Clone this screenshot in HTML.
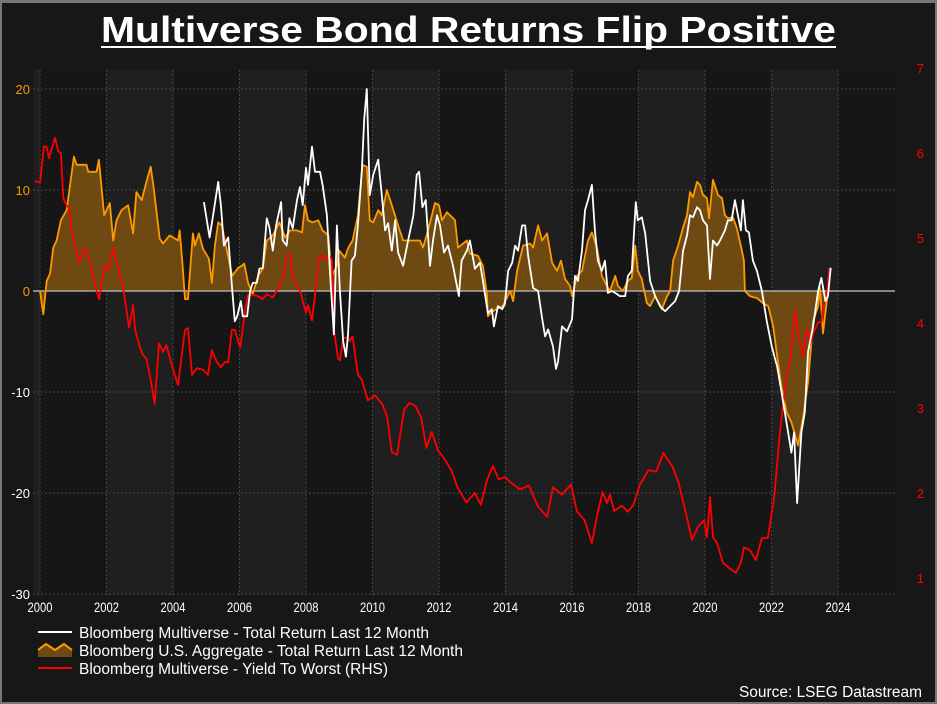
<!DOCTYPE html>
<html><head><meta charset="utf-8">
<style>
html,body{margin:0;padding:0;background:#161616;}
svg{display:block;font-family:"Liberation Sans",Arial,sans-serif;}
</style></head>
<body>
<svg id="chart" width="937" height="704" viewBox="0 0 937 704" xmlns="http://www.w3.org/2000/svg">
<rect x="0" y="0" width="937" height="704" fill="#171717"/>
<rect x="0.5" y="1.5" width="936" height="702" fill="none" stroke="#777" stroke-width="3"/>
<text x="101" y="42" textLength="735" lengthAdjust="spacingAndGlyphs" font-size="36" font-weight="bold" fill="#fff">Multiverse Bond Returns Flip Positive</text>
<rect x="101" y="46" width="735" height="2" fill="#fff"/>
<g id="bands"></g>
<g id="grid"></g>
<g id="series"></g>
<g id="axes"></g>
<g id="legend">
  <line x1="38" y1="632" x2="72" y2="632" stroke="#fff" stroke-width="2"/>
  <text x="79" y="638" font-size="15.5" textLength="350" lengthAdjust="spacingAndGlyphs" fill="#fff">Bloomberg Multiverse - Total Return Last 12 Month</text>
  <path d="M38,650 L46,644 L55,650 L64,644 L72,650 L72,657 L38,657 Z" fill="#6e4a12"/>
  <path d="M38,650 L46,644 L55,650 L64,644 L72,650" fill="none" stroke="#ff9900" stroke-width="2"/>
  <text x="79" y="656" font-size="15.5" textLength="384" lengthAdjust="spacingAndGlyphs" fill="#fff">Bloomberg U.S. Aggregate - Total Return Last 12 Month</text>
  <line x1="38" y1="668" x2="72" y2="668" stroke="#ff0000" stroke-width="2"/>
  <text x="79" y="674" font-size="15.5" textLength="309" lengthAdjust="spacingAndGlyphs" fill="#fff">Bloomberg Multiverse - Yield To Worst (RHS)</text>
</g>
<text x="739" y="697" textLength="183" lengthAdjust="spacingAndGlyphs" font-size="15.5" fill="#fff">Source: LSEG Datastream</text>
</svg>
<script>
const xTicks = [2000,2002,2004,2006,2008,2010,2012,2014,2016,2018,2020,2022,2024];
const leftTicks = [20,10,0,-10,-20,-30];
const rightTicks = [7,6,5,4,3,2,1];

const aggT = [2000.0,2000.1,2000.2,2000.3,2000.4,2000.5,2000.63,2000.8,2001.02,2001.1,2001.4,2001.45,2001.7,2001.77,2001.93,2002.1,2002.2,2002.3,2002.45,2002.65,2002.8,2002.9,2003.06,2003.2,2003.33,2003.42,2003.6,2003.7,2003.9,2004.15,2004.2,2004.3,2004.36,2004.45,2004.6,2004.66,2004.78,2004.9,2005.08,2005.17,2005.26,2005.36,2005.47,2005.62,2005.78,2005.96,2006.07,2006.14,2006.26,2006.4,2006.56,2006.7,2006.82,2007.0,2007.2,2007.37,2007.52,2007.73,2007.88,2007.97,2008.06,2008.2,2008.37,2008.5,2008.67,2008.78,2008.93,2009.0,2009.17,2009.26,2009.4,2009.56,2009.7,2009.83,2009.92,2010.02,2010.17,2010.28,2010.43,2010.58,2010.77,2010.92,2011.13,2011.43,2011.52,2011.67,2011.88,2012.0,2012.09,2012.24,2012.48,2012.57,2012.84,2012.93,2013.17,2013.32,2013.44,2013.47,2013.62,2013.92,2014.14,2014.23,2014.35,2014.53,2014.74,2014.83,2014.98,2015.1,2015.25,2015.4,2015.55,2015.67,2015.79,2015.94,2016.0,2016.15,2016.3,2016.48,2016.6,2016.75,2016.9,2017.05,2017.14,2017.3,2017.38,2017.53,2017.68,2017.8,2017.9,2017.98,2018.1,2018.25,2018.35,2018.5,2018.7,2018.86,2018.95,2019.04,2019.19,2019.34,2019.46,2019.55,2019.64,2019.76,2019.85,2019.94,2020.06,2020.12,2020.24,2020.39,2020.51,2020.6,2020.69,2020.84,2020.96,2021.11,2021.17,2021.2,2021.35,2021.56,2021.74,2021.9,2022.05,2022.17,2022.3,2022.45,2022.6,2022.8,2022.95,2023.1,2023.25,2023.4,2023.46,2023.55,2023.7];
const aggV = [0,-2.3,1,1.7,4.3,5,7,8,13.3,12.5,12.5,11.8,11.8,13,7.5,8.7,5,7,8,8.5,5.7,9.8,9,10.8,12.3,10.2,5.2,4.7,5.5,5,6,2,-0.8,-0.8,5.7,4.5,5.7,4.2,3.2,0.8,4.5,6.8,6.5,4,1.5,2.3,2.5,2.7,0.8,-0.3,1.5,2.2,5,5.5,6.8,5.3,6,6,5.8,8.5,7,6.8,7,6,5.5,1.5,2.5,4,3.3,4.2,5,7.5,12.5,12.3,7,6.8,8,7.5,10,8.5,6.5,5,5,5,4.3,6,8.7,8.5,7,7.8,7,4.3,5,3.7,3.5,2.5,-0.3,-2.5,-2,-1.5,0,-1,2,4.5,4.7,4.3,6.5,5,5.7,2.8,2,3,1.2,0.5,-0.5,1.5,2,5,5.8,4.3,1.5,0.5,0,1.5,0.5,0,1,1.3,4.5,2,1.2,-1.2,-1.5,-0.5,-1.8,-0.5,0,3,4.5,6.3,7.5,9.8,9.3,10.8,10.5,9.5,9.2,7.2,11,9.5,9.2,7.5,7.2,7.3,6.2,4,3,0,-0.5,-0.7,-1.2,-1.5,-3.5,-6.5,-9.5,-12,-13,-15.3,-12.5,-9,-3,-1.5,0.3,-4.2,0];

const mvT = [2004.93,2005.1,2005.23,2005.36,2005.44,2005.53,2005.66,2005.77,2005.86,2005.93,2006.04,2006.1,2006.23,2006.32,2006.4,2006.52,2006.6,2006.7,2006.82,2006.9,2007.0,2007.1,2007.25,2007.3,2007.42,2007.5,2007.6,2007.73,2007.82,2007.9,2008.0,2008.06,2008.18,2008.27,2008.42,2008.5,2008.63,2008.72,2008.84,2008.93,2009.02,2009.12,2009.2,2009.26,2009.37,2009.47,2009.56,2009.68,2009.75,2009.83,2009.92,2010.02,2010.17,2010.28,2010.38,2010.47,2010.58,2010.68,2010.77,2010.92,2011.07,2011.23,2011.33,2011.4,2011.5,2011.6,2011.73,2011.82,2011.94,2012.03,2012.15,2012.27,2012.42,2012.6,2012.68,2012.84,2012.93,2013.08,2013.23,2013.32,2013.47,2013.59,2013.65,2013.77,2013.9,2013.98,2014.08,2014.2,2014.29,2014.38,2014.5,2014.59,2014.68,2014.83,2014.98,2015.1,2015.19,2015.28,2015.43,2015.52,2015.58,2015.7,2015.85,2016.0,2016.09,2016.18,2016.3,2016.39,2016.48,2016.6,2016.69,2016.78,2016.9,2016.99,2017.08,2017.2,2017.35,2017.44,2017.6,2017.68,2017.8,2017.92,2017.98,2018.1,2018.2,2018.35,2018.5,2018.65,2018.8,2018.95,2019.1,2019.22,2019.34,2019.46,2019.55,2019.64,2019.76,2019.85,2019.94,2020.06,2020.15,2020.24,2020.36,2020.45,2020.6,2020.69,2020.8,2020.9,2020.99,2021.08,2021.14,2021.23,2021.32,2021.44,2021.56,2021.71,2021.86,2022.01,2022.17,2022.3,2022.45,2022.6,2022.68,2022.77,2022.9,2023.0,2023.1,2023.25,2023.4,2023.5,2023.62,2023.7,2023.78];
const mvV = [8.8,5.3,8,10.8,8.5,4.5,5.3,0.5,-3,-2.5,-1,-2.5,-2.5,0,0.8,0.8,2.2,2.3,7.2,6.3,4,6.5,8.8,5,4.5,7.2,6.2,9,10.3,8.5,12.2,10.5,14.3,11.8,11.8,10.5,7.5,2,-4.3,6.5,0,-5,-6.5,-4.5,3,3.5,6.5,12,17,20,9.5,11.5,13,9.5,6,6.7,4,7,3.8,2.5,5,7.5,11.5,11.8,8.3,9,2.5,5,7.5,6.5,3.8,4.5,2.5,-0.5,3,4,5,2.2,2.8,1,-2.2,-1.8,-3.5,-1.5,-1.8,-1.3,2,2.8,4.5,4,6.5,6.5,3.5,0.3,0,-2.7,-4.5,-3.8,-5.5,-7.7,-7,-3.5,-4,-2.8,1.5,1,4,8,9,10.5,6,3,2,3,-0.2,0,-0.3,-0.5,-0.5,1.5,2,8.8,7,7.3,5.7,1,-0.5,-1.5,-2,-1.5,-1,0,4,5.5,7.5,7.3,8.3,8,7,6.5,1.2,5,4.5,5,6,7,7,9,7.5,6,9,6,5.8,3,2,0,-3,-5.5,-7.5,-10,-13,-16,-14,-21,-14,-12,-6,-3.5,0,1.3,-1,-0.5,2.3];

const ytwT = [1999.85,2000.0,2000.12,2000.2,2000.27,2000.45,2000.55,2000.63,2000.7,2000.8,2000.88,2000.96,2001.05,2001.18,2001.3,2001.38,2001.5,2001.65,2001.78,2001.95,2002.05,2002.2,2002.35,2002.5,2002.68,2002.8,2002.86,2003.0,2003.1,2003.2,2003.33,2003.45,2003.58,2003.7,2003.8,2003.97,2004.05,2004.15,2004.36,2004.45,2004.57,2004.72,2004.9,2005.05,2005.17,2005.32,2005.44,2005.56,2005.66,2005.77,2005.86,2006.02,2006.17,2006.26,2006.38,2006.53,2006.7,2006.82,2007.0,2007.12,2007.3,2007.42,2007.52,2007.6,2007.82,2007.9,2008.0,2008.06,2008.18,2008.27,2008.37,2008.47,2008.57,2008.72,2008.78,2008.84,2008.96,2009.02,2009.12,2009.23,2009.32,2009.4,2009.56,2009.68,2009.86,2010.08,2010.3,2010.44,2010.58,2010.74,2010.95,2011.11,2011.3,2011.47,2011.62,2011.78,2011.96,2012.18,2012.37,2012.55,2012.82,2013.08,2013.26,2013.44,2013.62,2013.8,2013.98,2014.17,2014.44,2014.7,2014.98,2015.25,2015.43,2015.7,2015.97,2016.15,2016.38,2016.6,2016.78,2016.92,2017.05,2017.14,2017.27,2017.5,2017.68,2017.85,2018.03,2018.3,2018.53,2018.75,2019.02,2019.2,2019.44,2019.61,2019.79,2019.97,2020.06,2020.15,2020.24,2020.36,2020.54,2020.72,2020.93,2021.08,2021.17,2021.35,2021.53,2021.71,2021.89,2022.08,2022.26,2022.44,2022.56,2022.71,2022.8,2022.95,2023.07,2023.16,2023.25,2023.4,2023.5,2023.55,2023.67,2023.74];
const ytwV = [5.67,5.65,6.08,6.07,5.94,6.18,6.02,6.0,5.47,5.38,5.35,5.07,4.92,4.7,4.86,4.88,4.72,4.45,4.28,4.68,4.62,4.88,4.65,4.41,3.95,4.21,3.92,3.72,3.62,3.58,3.33,3.05,3.76,3.66,3.74,3.5,3.39,3.27,3.92,3.94,3.39,3.47,3.45,3.39,3.68,3.54,3.48,3.54,3.54,3.92,3.92,3.71,4.16,4.33,4.33,4.32,4.28,4.34,4.3,4.38,4.5,4.8,4.81,4.53,4.38,4.26,4.12,4.21,4.03,4.33,4.74,4.8,4.74,4.79,4.74,3.92,3.59,3.56,3.82,3.83,3.79,3.84,3.39,3.33,3.09,3.15,3.04,2.9,2.48,2.45,2.98,3.06,3.02,2.88,2.53,2.72,2.51,2.39,2.27,2.07,1.89,2.0,1.86,2.15,2.32,2.16,2.19,2.12,2.04,2.09,1.84,1.72,2.07,1.98,2.1,1.78,1.68,1.41,1.78,2.01,1.88,1.98,1.79,1.85,1.78,1.86,2.09,2.27,2.25,2.47,2.31,2.13,1.74,1.45,1.6,1.68,1.48,1.95,1.48,1.41,1.18,1.12,1.06,1.18,1.36,1.33,1.21,1.47,1.47,1.95,2.74,3.33,3.56,4.15,3.88,3.6,3.94,3.74,3.88,4.01,4.01,4.19,4.35,4.65];

const NS='http://www.w3.org/2000/svg';
const PL=33, PR=895, PT=70, PB=595;
function xS(yr){return 40+(yr-2000)*33.25;}
function yL(v){return 291-v*10.1;}
function yR(v){return 663-v*85;}
function mk(tag,attrs,parent){const e=document.createElementNS(NS,tag);for(const k in attrs)e.setAttribute(k,attrs[k]);parent.appendChild(e);return e;}

const bands=document.getElementById('bands');
let r=mk('rect',{x:PL,y:PT,width:PR-PL,height:PB-PT,fill:'#161616'},bands);


r=mk('rect',{x:PL,y:PT,width:xS(2000)-PL,height:PB-PT,fill:'#1f1f1f'},bands);


for(let yr=2002;yr<2024;yr+=4){
  const b=mk('rect',{x:xS(yr),y:PT,width:xS(yr+2)-xS(yr),height:PB-PT,fill:'#1f1f1f'},bands);
  
  
}
const grid=document.getElementById('grid');
xTicks.forEach(t=>{
  const l=mk('line',{x1:xS(t),x2:xS(t),y1:PT,y2:PB,stroke:'#555','stroke-dasharray':'1.5,2.5'},grid);
  
  
});
leftTicks.forEach(t=>{
  if(t===0) return;
  const l=mk('line',{x1:PL,x2:PR,y1:yL(t),y2:yL(t),stroke:'#555','stroke-dasharray':'1.5,2.5'},grid);
  
  
});

const ser=document.getElementById('series');
let d='M'+xS(aggT[0])+','+yL(0);
aggT.forEach((t,i)=>{d+=' L'+xS(t).toFixed(1)+','+yL(aggV[i]).toFixed(1);});
d+=' L'+xS(aggT[aggT.length-1]).toFixed(1)+','+yL(0)+' Z';
let p=mk('path',{d:d,fill:'#6e4a12'},ser);


let zl=mk('line',{x1:PL,x2:PR,y1:yL(0),y2:yL(0),stroke:'#aaa','stroke-width':1.5},ser);


function line(ts,vs,fy,color,name){
  const pts=ts.map((t,i)=>xS(t).toFixed(1)+','+fy(vs[i]).toFixed(1)).join(' ');
  const e=mk('polyline',{points:pts,fill:'none',stroke:color,'stroke-width':1.8,'stroke-linejoin':'round'},ser);
  
  
}
line(aggT,aggV,yL,'#ff9900','aggregate-line');
line(ytwT,ytwV,yR,'#ff0000','yield-to-worst-line');
line(mvT,mvV,yL,'#ffffff','multiverse-line');

const ax=document.getElementById('axes');
xTicks.forEach(t=>{
  const e=mk('text',{x:xS(t),y:612,'text-anchor':'middle','font-size':14,fill:'#fff',transform:'translate('+xS(t)+',0) scale(0.8,1) translate('+(-xS(t))+',0)'},ax);
  e.textContent=t;
  
  
});
leftTicks.forEach(t=>{
  const e=mk('text',{x:30,y:yL(t)+5,'text-anchor':'end','font-size':13,fill:t<0?'#fff':'#ff9900'},ax);
  e.textContent=t;
  
  
});
rightTicks.forEach(t=>{
  const e=mk('text',{x:924,y:yR(t)+5,'text-anchor':'end','font-size':13,fill:'#ff0000'},ax);
  e.textContent=t;
  
  
});
</script>
</body></html>
